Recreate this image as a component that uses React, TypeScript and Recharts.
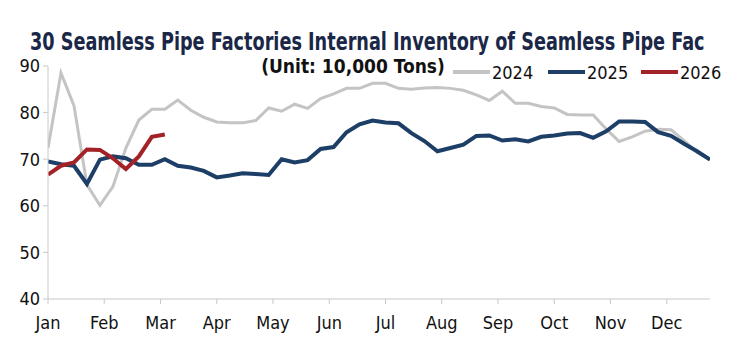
import React, { useLayoutEffect, useRef, useState } from 'react';
import { LineChart, Line, XAxis, YAxis } from 'recharts';

const months = ['Jan', 'Feb', 'Mar', 'Apr', 'May', 'Jun', 'Jul', 'Aug', 'Sep', 'Oct', 'Nov', 'Dec'];
const monthTicks = [0, 4.33, 8.67, 13, 17.33, 21.67, 26, 30.33, 34.67, 39, 43.33, 47.67];
const yTicks = [40, 50, 60, 70, 80, 90];

const s2024 = [72.4, 88.5, 81.5, 64.5, 60.1, 64.1, 72.4, 78.4, 80.7, 80.7, 82.7, 80.5, 79, 78, 77.8, 77.8, 78.3, 81, 80.3, 81.8, 80.9, 83, 84, 85.2, 85.2, 86.3, 86.3, 85.2, 85, 85.3, 85.4, 85.2, 84.8, 83.8, 82.6, 84.6, 82, 82, 81.3, 81, 79.6, 79.5, 79.5, 76.5, 73.8, 74.8, 76, 76.4, 76.3, 74, 71.5, 70];
const s2025 = [69.5, 68.9, 68.6, 64.7, 69.9, 70.6, 70.2, 68.8, 68.8, 70, 68.6, 68.2, 67.5, 66.1, 66.5, 67, 66.8, 66.6, 70, 69.3, 69.8, 72.2, 72.6, 75.8, 77.5, 78.3, 77.9, 77.7, 75.6, 73.9, 71.7, 72.4, 73.1, 75, 75.1, 74, 74.3, 73.8, 74.8, 75.1, 75.5, 75.6, 74.6, 76, 78.1, 78.1, 78, 75.8, 75, 73.3, 71.7, 69.9];
const s2026 = [66.7, 68.6, 69.3, 72.1, 72, 70.2, 67.9, 70.6, 74.8, 75.3];

const seriesNames = ['2024', '2025', '2026'];
const seriesColors = ['#c4c4c4', '#1d3e66', '#a32227'];

const data = s2024.map((v, i) => ({
  w: i,
  y2024: v,
  y2025: s2025[i],
  y2026: i < s2026.length ? s2026[i] : null,
}));

const FONT = "'Liberation Sans Narrow', 'DejaVu Sans Condensed', 'Roboto', sans-serif";
const legendX = [453, 548, 641];
const TITLE = '30 Seamless Pipe Factories Internal Inventory of Seamless Pipe Fac';

function FitText({ x, y, width, children, ...rest }: any) {
  const ref = useRef<SVGTextElement>(null);
  const [sx, setSx] = useState(1);
  useLayoutEffect(() => {
    if (ref.current) {
      const w = ref.current.getComputedTextLength();
      if (w > 0) setSx(width / w);
    }
  }, [width]);
  return (
    <g transform={`translate(${x},${y}) scale(${sx},1)`}>
      <text ref={ref} x={0} y={0} {...rest}>{children}</text>
    </g>
  );
}

export default function App() {
  return (
    <div style={{ position: 'absolute', left: 0, top: 0, width: 740, height: 356, background: '#fff' }}>
      <LineChart width={740} height={356} data={data} margin={{ top: 66, right: 30, left: 0, bottom: 27 }} style={{ position: 'absolute', left: 0, top: 0 }}>
        <XAxis
          dataKey="w"
          type="number"
          domain={[0, 51]}
          ticks={monthTicks}
          tickFormatter={(v: number) => months[monthTicks.indexOf(v)] ?? ''}
          axisLine={{ stroke: '#c8c8c8' }}
          tickLine={{ stroke: '#c8c8c8' }}
          tickSize={5}
          tick={{ fontSize: 18, fill: '#111', fontFamily: FONT }}
          tickMargin={12}
          interval={0}
          allowDataOverflow
        />
        <YAxis
          width={48}
          type="number"
          domain={[40, 90]}
          ticks={yTicks}
          axisLine={{ stroke: '#c8c8c8' }}
          tickLine={{ stroke: '#c8c8c8' }}
          tickSize={5}
          tick={{ fontSize: 18, fill: '#111', fontFamily: FONT }}
          tickMargin={3}
          interval={0}
        />
        <Line dataKey="y2024" name="2024" stroke={seriesColors[0]} strokeWidth={3} dot={false} isAnimationActive={false} type="linear" />
        <Line dataKey="y2025" name="2025" stroke={seriesColors[1]} strokeWidth={4} dot={false} isAnimationActive={false} type="linear" />
        <Line dataKey="y2026" name="2026" stroke={seriesColors[2]} strokeWidth={4} dot={false} isAnimationActive={false} type="linear" connectNulls={false} />
      </LineChart>
      <svg width={740} height={90} style={{ position: 'absolute', left: 0, top: 0, pointerEvents: 'none' }}>
        <FitText x={30} y={50} width={675} fontSize={25} fontWeight="bold" fontFamily={FONT} fill="#1b2747">
          {TITLE}
        </FitText>
        <text x={353} y={73} textAnchor="middle" fontSize={19} fontWeight="bold" fontFamily={FONT} fill="#111">
          (Unit: 10,000 Tons)
        </text>
        {seriesNames.map((n, i) => (
          <g key={n}>
            <line x1={legendX[i]} x2={legendX[i] + 37} y1={72} y2={72} stroke={seriesColors[i]} strokeWidth={4} />
            <text x={legendX[i] + 39} y={79} fontSize={18} fontFamily={FONT} fill="#111">{n}</text>
          </g>
        ))}
      </svg>
    </div>
  );
}
